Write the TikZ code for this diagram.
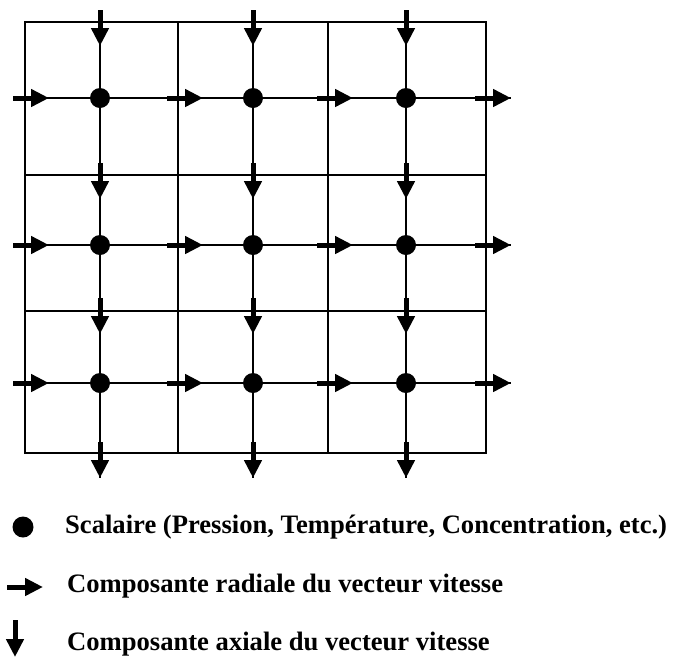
\documentclass[tikz,border=0pt]{standalone}
\usepackage{fontspec}
\setmainfont{Liberation Serif}
\usetikzlibrary{arrows.meta}

\begin{document}
\begin{tikzpicture}[x=1pt, y=-1pt,
      cellline/.style={draw=black, line width=1.8pt},
      flowline/.style={draw=black, line width=1.6pt},
      scalar/.style={circle, fill=black, minimum size=20pt, inner sep=0pt},
      velocity/.style={-{Triangle[length=18pt, width=17pt]}, line width=5pt, draw=black},
      keytext/.style={anchor=base west, inner sep=0pt,
                      font=\fontsize{26.6}{30}\selectfont\bfseries}]
    \useasboundingbox (0,0) rectangle (675,657);
    % maillage
    \draw[cellline] (25,22) rectangle (486,453);
    \draw[cellline] (178,22) -- (178,453) (328,22) -- (328,453)
                    (25,175) -- (486,175) (25,311) -- (486,311);
    % composantes radiales
    \foreach \r/\y in {1/98,2/245,3/383} {
      \foreach \k/\x in {1/13,2/167,3/317,4/475} {
        \coordinate (ra\r\k) at (\x,\y);
        \coordinate (rb\r\k) at (\x+36,\y);
      }
      \draw[flowline] (ra\r1) -- (rb\r4);
      \foreach \k in {1,...,4}
        \draw[velocity] (ra\r\k) -- (rb\r\k);
    }
    % composantes axiales
    \foreach \c/\x in {1/100,2/253,3/406} {
      \foreach \k/\y in {1/10,2/163,3/298,4/442} {
        \coordinate (aa\k\c) at (\x,\y);
        \coordinate (ab\k\c) at (\x,\y+36);
      }
      \draw[flowline] (aa1\c) -- (ab4\c);
      \foreach \k in {1,...,4}
        \draw[velocity] (aa\k\c) -- (ab\k\c);
    }
    % scalaires
    \foreach \r/\y in {1/98,2/245,3/383}
      \foreach \c/\x in {1/100,2/253,3/406}
        \node[scalar] (s\r\c) at (\x,\y) {};
    % legende
    \node[scalar, minimum size=21pt] (keydot) at (23,527) {};
    \node[keytext] (keyscal) at (65,533) {Scalaire (Pression, Température, Concentration, etc.)};
    \coordinate (keyra) at (7,587);
    \coordinate (keyrb) at (43,587);
    \draw[velocity] (keyra) -- (keyrb);
    \node[keytext] (keyrad) at (67,592) {Composante radiale du vecteur vitesse};
    \coordinate (keyaa) at (15,620);
    \coordinate (keyab) at (15,657);
    \draw[velocity] (keyaa) -- (keyab);
    \node[keytext] (keyax) at (67,650) {Composante axiale du vecteur vitesse};
  \end{tikzpicture}
\end{document}
